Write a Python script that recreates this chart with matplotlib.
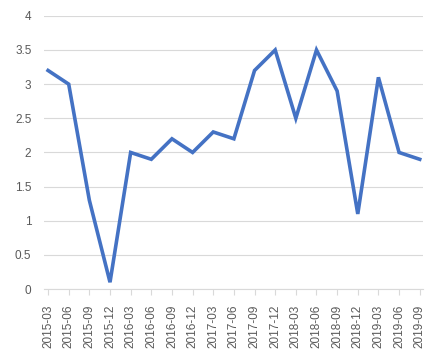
import matplotlib.pyplot as plt
from matplotlib.ticker import FormatStrFormatter

quarters = ['2015-03', '2015-06', '2015-09', '2015-12', '2016-03', '2016-06', '2016-09',
            '2016-12', '2017-03', '2017-06', '2017-09', '2017-12', '2018-03', '2018-06',
            '2018-09', '2018-12', '2019-03', '2019-06', '2019-09']
values = [3.2, 3.0, 1.3, 0.1, 2.0, 1.9, 2.2, 2.0, 2.3, 2.2, 3.2, 3.5, 2.5, 3.5,
          2.9, 1.1, 3.1, 2.0, 1.9]

plt.rcParams['font.family'] = ['Liberation Sans', 'DejaVu Sans']

fig = plt.figure(figsize=(4.35, 3.6), dpi=100)
ax = fig.add_axes([0.101, 0.197, 0.871, 0.759])

x = list(range(len(quarters)))
ax.plot(x, values, color='#4472C4', linewidth=2.6, solid_joinstyle='miter')

ax.set_ylim(0, 4)
ax.set_yticks([0, 0.5, 1, 1.5, 2, 2.5, 3, 3.5, 4])
ax.yaxis.set_major_formatter(FormatStrFormatter('%g'))
ax.set_xlim(-0.2, 18.15)
ax.set_xticks(x)
ax.set_xticklabels(quarters, rotation=90)

ax.grid(axis='y', color='#D9D9D9', linewidth=0.8)
ax.set_axisbelow(True)
for s in ['left', 'right', 'top']:
    ax.spines[s].set_visible(False)
ax.spines['bottom'].set_color('#D9D9D9')
ax.tick_params(axis='y', length=0, pad=9, labelsize=8.5, labelcolor='#595959')
ax.tick_params(axis='x', length=4, color='#D9D9D9', pad=7, labelsize=8.5, labelcolor='#595959')

plt.savefig('out.png', dpi=100)
